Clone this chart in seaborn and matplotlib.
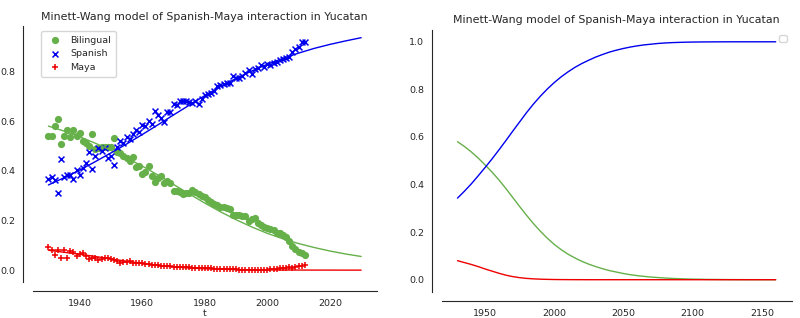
import numpy as np
import pandas as pd
import matplotlib
matplotlib.use("Agg")
import matplotlib.pyplot as plt
import seaborn as sns

# ---- observed data (1930-2012) ----
years = list(range(1930, 2013))
bilingual = [0.541, 0.541, 0.579, 0.607, 0.507, 0.541, 0.566, 0.537, 0.566, 0.541,
             0.552, 0.518, 0.510, 0.500, 0.548, 0.487, 0.490, 0.495, 0.497, 0.497,
             0.497, 0.532, 0.477, 0.470, 0.460, 0.453, 0.440, 0.457, 0.416, 0.420,
             0.389, 0.395, 0.418, 0.378, 0.355, 0.370, 0.380, 0.350, 0.360, 0.350,
             0.317, 0.318, 0.313, 0.308, 0.310, 0.310, 0.323, 0.315, 0.308, 0.300,
             0.295, 0.282, 0.275, 0.268, 0.262, 0.255, 0.253, 0.250, 0.245, 0.222,
             0.222, 0.220, 0.218, 0.216, 0.198, 0.204, 0.208, 0.190, 0.180, 0.175,
             0.170, 0.165, 0.160, 0.150, 0.150, 0.143, 0.132, 0.116, 0.099, 0.086,
             0.075, 0.068, 0.061]
spanish = [0.365, 0.377, 0.361, 0.309, 0.446, 0.377, 0.382, 0.382, 0.365, 0.402,
           0.385, 0.410, 0.432, 0.477, 0.409, 0.460, 0.493, 0.480, 0.490, 0.450,
           0.460, 0.425, 0.497, 0.520, 0.510, 0.535, 0.527, 0.548, 0.565, 0.555,
           0.586, 0.580, 0.600, 0.590, 0.640, 0.626, 0.613, 0.597, 0.637, 0.635,
           0.668, 0.665, 0.681, 0.680, 0.680, 0.676, 0.675, 0.680, 0.670, 0.690,
           0.705, 0.710, 0.715, 0.720, 0.740, 0.745, 0.750, 0.752, 0.755, 0.780,
           0.775, 0.773, 0.780, 0.795, 0.804, 0.790, 0.810, 0.815, 0.825, 0.820,
           0.830, 0.828, 0.835, 0.840, 0.845, 0.850, 0.855, 0.860, 0.879, 0.890,
           0.900, 0.917, 0.920]
maya = [0.095, 0.082, 0.060, 0.082, 0.050, 0.082, 0.050, 0.079, 0.072, 0.058,
        0.063, 0.068, 0.058, 0.045, 0.048, 0.050, 0.040, 0.045, 0.050, 0.050,
        0.046, 0.042, 0.038, 0.028, 0.032, 0.033, 0.035, 0.030, 0.030, 0.027,
        0.028, 0.025, 0.024, 0.020, 0.022, 0.020, 0.018, 0.017, 0.017, 0.016,
        0.014, 0.014, 0.013, 0.012, 0.012, 0.011, 0.010, 0.010, 0.009, 0.008,
        0.008, 0.007, 0.007, 0.006, 0.006, 0.005, 0.005, 0.004, 0.004, 0.003,
        0.003, 0.002, 0.002, 0.002, 0.002, 0.002, 0.002, 0.002, 0.002, 0.002,
        0.002, 0.003, 0.004, 0.005, 0.007, 0.008, 0.010, 0.012, 0.010, 0.014,
        0.016, 0.018, 0.020]

# ---- model curves ----
model_t = [1930, 1935, 1940, 1945, 1950, 1955, 1960, 1965, 1970, 1975, 1980,
           1985, 1990, 1995, 2000, 2005, 2010, 2015, 2020, 2025, 2030, 2035,
           2040, 2045, 2050, 2055, 2060, 2065, 2070, 2075, 2080, 2085, 2090,
           2095, 2100, 2110, 2120, 2130, 2140, 2150, 2160]
model_spanish = [0.343, 0.372, 0.403, 0.437, 0.472, 0.508, 0.546, 0.585, 0.625,
                 0.664, 0.703, 0.739, 0.772, 0.802, 0.829, 0.853, 0.874, 0.893,
                 0.909, 0.923, 0.936, 0.947, 0.957, 0.965, 0.972, 0.978, 0.983,
                 0.987, 0.990, 0.993, 0.995, 0.9965, 0.9975, 0.9983, 0.9989,
                 0.9995, 0.9998, 1.000, 1.000, 1.000, 1.000]
model_bilingual = [0.580, 0.560, 0.537, 0.511, 0.482, 0.452, 0.419, 0.383, 0.345,
                   0.307, 0.270, 0.235, 0.203, 0.174, 0.148, 0.126, 0.107, 0.091,
                   0.077, 0.065, 0.055, 0.046, 0.038, 0.032, 0.026, 0.021, 0.017,
                   0.014, 0.011, 0.009, 0.007, 0.0055, 0.0043, 0.0033, 0.0025,
                   0.0014, 0.0008, 0.0004, 0.0002, 0.0001, 0.0]
model_maya = [0.080, 0.072, 0.064, 0.055, 0.045, 0.036, 0.027, 0.019, 0.013,
              0.0085, 0.0055, 0.0035, 0.0022, 0.0014, 0.0008, 0.0005, 0.0003,
              0.0002, 0.0001, 0.0, 0.0, 0.0, 0.0, 0.0, 0.0, 0.0, 0.0, 0.0, 0.0,
              0.0, 0.0, 0.0, 0.0, 0.0, 0.0, 0.0, 0.0, 0.0, 0.0, 0.0, 0.0]

title = "Minett-Wang model of Spanish-Maya interaction in Yucatan"
GREEN = "#66b04a"
BLUE = "#0000ee"
RED = "#ee0000"

sns.set_style("white")
plt.rcParams['font.family'] = ['DejaVu Sans']

obs = pd.DataFrame({"t": years, "Bilingual": bilingual, "Spanish": spanish, "Maya": maya})
mod = pd.DataFrame({"t": model_t, "Bilingual": model_bilingual,
                    "Spanish": model_spanish, "Maya": model_maya})
mod_left = mod[mod["t"] <= 2030]

fig = plt.figure(figsize=(8.0, 3.18), dpi=100)
ax1 = fig.add_axes([0.041, 0.114, 0.430, 0.804])
ax2 = fig.add_axes([0.552, 0.083, 0.4375, 0.823])

fs_tick = 6.8
fs_title = 7.9

# Left: data + fit
sns.scatterplot(data=obs, x="t", y="Bilingual", color=GREEN, marker="o", s=27,
                edgecolor=GREEN, linewidth=0, label="Bilingual", ax=ax1)
sns.scatterplot(data=obs, x="t", y="Spanish", color=BLUE, marker="x", s=18,
                linewidth=1.1, label="Spanish", ax=ax1)
sns.scatterplot(data=obs, x="t", y="Maya", color=RED, marker="+", s=20,
                linewidth=1.1, label="Maya", ax=ax1)
sns.lineplot(data=mod_left, x="t", y="Bilingual", color=GREEN, lw=1.0, ax=ax1)
sns.lineplot(data=mod_left, x="t", y="Spanish", color=BLUE, lw=1.0, ax=ax1)
sns.lineplot(data=mod_left, x="t", y="Maya", color=RED, lw=1.0, ax=ax1)

ax1.set_xticks([1940, 1960, 1980, 2000, 2020])
ax1.set_yticks([0.0, 0.2, 0.4, 0.6, 0.8])
ax1.set_xlabel("t", fontsize=fs_tick, labelpad=1)
ax1.set_ylabel("")
ax1.set_title(title, fontsize=fs_title, pad=4.5)
ax1.tick_params(labelsize=fs_tick, pad=2)
ax1.legend(loc="upper left", fontsize=fs_tick, scatterpoints=1,
           borderpad=0.5, handletextpad=0.6, bbox_to_anchor=(0.01, 1.0))

# Right: long-run model
sns.lineplot(data=mod, x="t", y="Bilingual", color=GREEN, lw=1.0, ax=ax2)
sns.lineplot(data=mod, x="t", y="Spanish", color=BLUE, lw=1.0, ax=ax2)
sns.lineplot(data=mod, x="t", y="Maya", color=RED, lw=1.0, ax=ax2)
ax2.set_xticks([1950, 2000, 2050, 2100, 2150])
ax2.set_yticks([0.0, 0.2, 0.4, 0.6, 0.8, 1.0])
ax2.set_xlabel("")
ax2.set_ylabel("")
ax2.set_title(title, fontsize=fs_title, pad=5)
ax2.tick_params(labelsize=fs_tick, pad=2)
ax2.legend(handles=[], loc="upper right", fontsize=fs_tick)

sns.despine(ax=ax1, offset=7)
sns.despine(ax=ax2, offset=7)

fig.savefig("out.png", dpi=100)
